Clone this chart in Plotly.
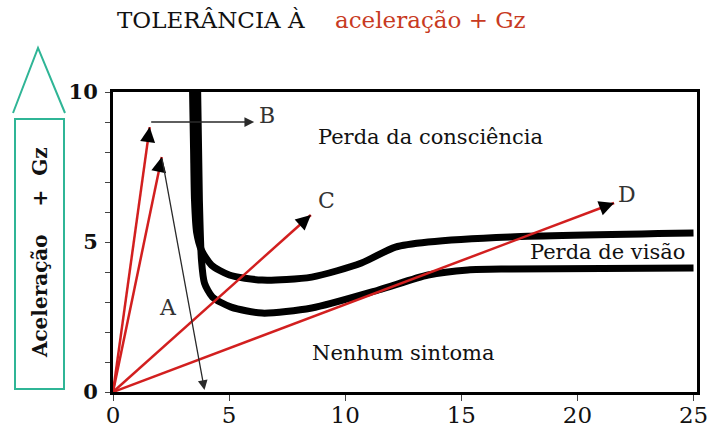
import plotly.graph_objects as go

# Axes
x_ticks = [0, 5, 10, 15, 20, 25]
y_ticks = list(range(0, 11))
y_tick_text = ["0", "", "", "", "", "5", "", "", "", "", "10"]

# Boundary of loss of consciousness (upper band): time (s) vs +Gz
consc_t = [3.42, 3.47, 3.51, 3.60, 3.81, 4.24, 5.01, 6.42, 8.56, 10.70, 12.16, 13.57, 17.12, 25.0]
consc_g = [10.3, 8.07, 6.40, 5.33, 4.73, 4.23, 3.90, 3.73, 3.83, 4.30, 4.83, 5.00, 5.17, 5.30]

# Boundary of loss of vision (lower band)
vision_t = [3.64, 3.72, 3.81, 3.94, 4.28, 5.09, 6.42, 8.56, 11.43, 13.57, 15.28, 17.12, 25.0]
vision_g = [10.3, 6.40, 4.40, 3.63, 3.17, 2.83, 2.63, 2.80, 3.40, 3.90, 4.07, 4.10, 4.13]

# Onset profiles drawn from the origin
onset_names = ["B", "A", "C", "D"]
onset_t = [1.58, 2.10, 8.52, 21.58]
onset_g = [8.83, 7.83, 5.90, 6.30]
label_t = [6.64, 2.35, 9.20, 22.13]
label_g = [9.23, 2.83, 6.40, 6.57]

# Follow-on paths after the peak: B holds the level, A drops back
hold_t = [1.58, 6.08]
hold_g = [9.00, 9.00]
drop_t = [2.10, 3.94]
drop_g = [7.83, 0.07]

# Region names
region_names = ["Perda da consciência", "Perda de visão", "Nenhum sintoma"]
region_t = [13.66, 21.28, 12.50]
region_g = [8.50, 4.67, 1.30]

SERIF = "DejaVu Serif"
RED = "#d21f1f"
TEAL = "#2fb596"

fig = go.Figure()

for t, g in ((consc_t, consc_g), (vision_t, vision_g)):
    fig.add_trace(go.Scatter(
        x=t, y=g, mode="lines",
        line=dict(color="black", width=7, shape="spline", smoothing=0.7),
        hoverinfo="skip", showlegend=False,
    ))

for t, g in zip(onset_t, onset_g):
    fig.add_trace(go.Scatter(
        x=[0, t], y=[0, g], mode="lines",
        line=dict(color=RED, width=2.5),
        hoverinfo="skip", showlegend=False,
    ))

annotations = []

# black arrowheads at the end of each red profile
for t, g in zip(onset_t, onset_g):
    annotations.append(dict(
        x=t, y=g, ax=0.97 * t, ay=0.97 * g, xref="x", yref="y", axref="x", ayref="y",
        text="", showarrow=True, arrowhead=2, arrowsize=1.5, arrowwidth=2,
        arrowcolor="black", standoff=0,
    ))

# thin follow-on arrows
for t, g in ((hold_t, hold_g), (drop_t, drop_g)):
    annotations.append(dict(
        x=t[1], y=g[1], ax=t[0], ay=g[0], xref="x", yref="y", axref="x", ayref="y",
        text="", showarrow=True, arrowhead=2, arrowsize=1.5, arrowwidth=1.3,
        arrowcolor="#2a2a2a", standoff=0,
    ))

for name, t, g in zip(onset_names, label_t, label_g):
    annotations.append(dict(
        x=t, y=g, xref="x", yref="y", text=name, showarrow=False,
        font=dict(family=SERIF, size=22, color="#333333"),
    ))

for name, t, g in zip(region_names, region_t, region_g):
    annotations.append(dict(
        x=t, y=g, xref="x", yref="y", text=name, showarrow=False,
        font=dict(family=SERIF, size=21, color="#111111"),
    ))

# title in two colours
annotations.append(dict(
    x=0.003, y=1.24, xref="paper", yref="paper", xanchor="left", yanchor="middle",
    text="TOLERÂNCIA À", showarrow=False,
    font=dict(family=SERIF, size=23, color="#111111"),
))
annotations.append(dict(
    x=0.377, y=1.24, xref="paper", yref="paper", xanchor="left", yanchor="middle",
    text="aceleração + Gz", showarrow=False,
    font=dict(family=SERIF, size=23, color="#c83a22"),
))

# boxed vertical axis label
annotations.append(dict(
    x=-0.125, y=0.463, xref="paper", yref="paper", xanchor="center", yanchor="middle",
    text="<b>Aceleração\u00a0\u00a0\u00a0\u00a0+\u00a0\u00a0Gz</b>", textangle=-90, showarrow=False,
    font=dict(family=SERIF, size=20, color="#111111"),
))

shapes = [
    dict(type="rect", xref="paper", yref="paper", x0=-0.1678, x1=-0.0839, y0=0.01, y1=0.91,
         line=dict(color=TEAL, width=2)),
    dict(type="path", xref="paper", yref="paper",
         path="M -0.1712 0.93 L -0.1284 1.1467 L -0.0822 0.93",
         line=dict(color=TEAL, width=2)),
]

fig.update_layout(
    width=712, height=437,
    margin=dict(l=113, r=15, t=92, b=45),
    paper_bgcolor="white", plot_bgcolor="white",
    annotations=annotations, shapes=shapes,
    showlegend=False,
    xaxis=dict(
        range=[0, 25.15], tickvals=x_ticks, ticktext=[str(v) for v in x_ticks],
        showgrid=False, zeroline=False, automargin=False,
        showline=True, linecolor="black", linewidth=3, mirror=True,
        ticks="outside", ticklen=6, tickwidth=1, tickcolor="#444444",
        ticklabeloverflow="allow", ticklabelstandoff=-6,
        tickfont=dict(family=SERIF, size=23, color="#111111"),
    ),
    yaxis=dict(
        range=[0, 10], tickvals=y_ticks, ticktext=y_tick_text,
        showgrid=False, zeroline=False, automargin=False,
        showline=True, linecolor="black", linewidth=3, mirror=True,
        ticks="outside", ticklen=5, tickwidth=1, tickcolor="#444444",
        ticklabelstandoff=3,
        tickfont=dict(family=SERIF, size=21, color="#111111", weight="bold"),
    ),
)

fig.write_html("out.html")
